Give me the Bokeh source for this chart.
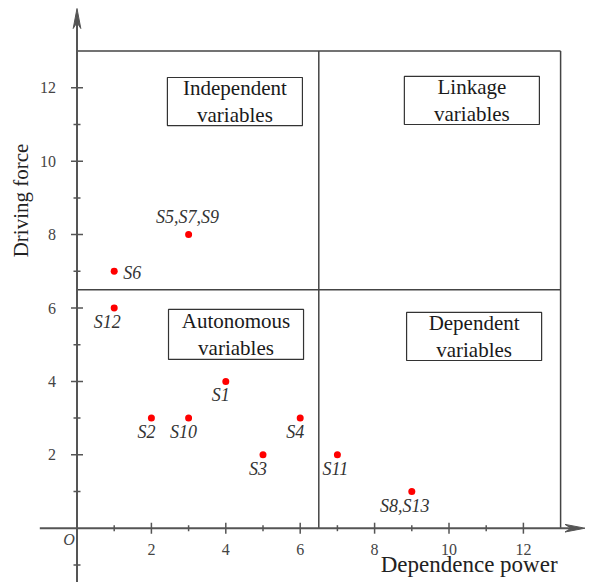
import math
from bokeh.plotting import figure
from bokeh.models import ColumnDataSource, Range1d
from bokeh.core.properties import value
from bokeh.embed import file_html
from bokeh.resources import INLINE

# ---------------- data ----------------
point_labels = ["S1", "S2", "S3", "S4", "S5,S7,S9", "S6", "S8,S13", "S10", "S11", "S12"]
dependence_power = [4, 2, 5, 6, 3, 1, 9, 3, 7, 1]
driving_force = [4, 3, 2, 3, 8, 7, 1, 3, 2, 6]

x_ticks_major = [2, 4, 6, 8, 10, 12]
x_tick_labels = ["2", "4", "6", "8", "10", "12"]
x_ticks_minor = [1, 3, 5, 7, 9, 11]
y_ticks_major = [2, 4, 6, 8, 10, 12]
y_tick_labels = ["2", "4", "6", "8", "10", "12"]
y_ticks_minor = [-1, 1, 3, 5, 7, 9, 11]

quadrant_split = 6.5
quadrant_max = 13

box_titles = ["Independent\nvariables", "Linkage\nvariables",
              "Autonomous\nvariables", "Dependent\nvariables"]
box_left = [2.43, 8.80, 2.46, 8.86]
box_right = [6.06, 12.43, 6.09, 12.49]
box_top = [12.28, 12.31, 5.96, 5.88]
box_bottom = [10.97, 11.00, 4.60, 4.57]

x_title = "Dependence power"
y_title = "Driving force"

# ---------------- layout ----------------
W, H = 594, 582
PX_X, PX_Y = 37.2, 36.7          # pixels per data unit
X_START = -76.5 / PX_X
Y_END = 527.7 / PX_Y
X_END = X_START + W / PX_X
Y_START = Y_END - H / PX_Y

SERIF = value("Liberation Serif")
AXIS_COL = "#555555"

p = figure(width=W, height=H, x_range=Range1d(X_START, X_END),
           y_range=Range1d(Y_START, Y_END), output_backend="svg",
           toolbar_location=None, x_axis_location=None, y_axis_location=None,
           min_border=0, outline_line_color=None, background_fill_color="white")
p.grid.grid_line_color = None

# quadrant frame
qs, qm = quadrant_split, quadrant_max
p.segment(x0=[0, 0, qm, qs], y0=[qm, qs, 0, 0], x1=[qm, qm, qm, qs], y1=[qm, qs, qm, qm],
          line_color="#444444", line_width=1.5)

# axes
x_tip = 0 + 508 / PX_X
y_tip = Y_END - 8 / PX_Y
p.segment(x0=[-1, 0], y0=[0, Y_START], x1=[x_tip - 10 / PX_X, 0], y1=[0, y_tip - 10 / PX_Y],
          line_color=AXIS_COL, line_width=2)

# arrow heads
L, Wd, N = 20, 3.8, 14
p.patches(xs=[[x_tip, x_tip - L / PX_X, x_tip - N / PX_X, x_tip - L / PX_X],
              [0, -Wd / PX_X, 0, Wd / PX_X]],
          ys=[[0, Wd / PX_Y, 0, -Wd / PX_Y],
              [y_tip, y_tip - L / PX_Y, y_tip - N / PX_Y, y_tip - L / PX_Y]],
          fill_color=AXIS_COL, line_color=AXIS_COL, line_width=1)

# ticks
p.segment(x0=x_ticks_major, x1=x_ticks_major, y0=[-5.5 / PX_Y] * len(x_ticks_major),
          y1=[5.5 / PX_Y] * len(x_ticks_major), line_color=AXIS_COL, line_width=1.5)
p.segment(x0=x_ticks_minor, x1=x_ticks_minor, y0=[-3 / PX_Y] * len(x_ticks_minor),
          y1=[3 / PX_Y] * len(x_ticks_minor), line_color=AXIS_COL, line_width=1.5)
p.segment(y0=y_ticks_major, y1=y_ticks_major, x0=[-6 / PX_X] * len(y_ticks_major),
          x1=[6 / PX_X] * len(y_ticks_major), line_color=AXIS_COL, line_width=1.5)
p.segment(y0=y_ticks_minor, y1=y_ticks_minor, x0=[-3.5 / PX_X] * len(y_ticks_minor),
          x1=[3.5 / PX_X] * len(y_ticks_minor), line_color=AXIS_COL, line_width=1.5)

# tick labels
p.text(x=x_ticks_major, y=[0] * len(x_ticks_major), text=x_tick_labels,
       text_font=SERIF, text_font_size="16px", text_color="#444444",
       text_align="center", text_baseline="middle", y_offset=21)
p.text(x=[0] * len(y_ticks_major), y=y_ticks_major, text=y_tick_labels,
       text_font=SERIF, text_font_size="16px", text_color="#444444",
       text_align="right", text_baseline="middle", x_offset=-21)
p.text(x=[0], y=[0], text=["O"], text_font=SERIF, text_font_size="16px",
       text_font_style="italic", text_color="#444444",
       text_align="center", text_baseline="middle", x_offset=-8, y_offset=11)

# axis titles
p.text(x=[X_START], y=[8.93], text=[y_title], angle=math.pi / 2,
       text_font=SERIF, text_font_size="21px", text_color="#222222",
       text_align="center", text_baseline="middle", x_offset=20)
p.text(x=[qm], y=[0], text=[x_title], text_font=SERIF, text_font_size="23px",
       text_color="#222222", text_align="right", text_baseline="middle",
       x_offset=-3, y_offset=36)

# quadrant boxes
p.quad(left=box_left, right=box_right, top=box_top, bottom=box_bottom,
       fill_color=None, line_color="#333333", line_width=1.2)
p.text(x=[(l + r) / 2 for l, r in zip(box_left, box_right)],
       y=[(t + b) / 2 for t, b in zip(box_top, box_bottom)], text=box_titles,
       text_font=SERIF, text_font_size="21px", text_color="#1a1a1a",
       text_align="center", text_baseline="middle", text_line_height=1.15)

# points
p.scatter(dependence_power, driving_force, size=7, color="#ff0000", line_color=None)

# point labels
placement = {"S5,S7,S9": ("center", "middle", -1, -18),
             "S6": ("left", "middle", 9, 2)}
below_dx = {"S12": -7, "S8,S13": -7, "S11": -2}
lab = dict(x=[], y=[], text=[], align=[], base=[], dx=[], dy=[])
for name, xv, yv in zip(point_labels, dependence_power, driving_force):
    a, b, dx, dy = placement.get(name, ("center", "middle", below_dx.get(name, -5), 14))
    lab["x"].append(xv); lab["y"].append(yv); lab["text"].append(name)
    lab["align"].append(a); lab["base"].append(b); lab["dx"].append(dx); lab["dy"].append(dy)
src = ColumnDataSource(lab)
p.text(x="x", y="y", text="text", text_align="align", text_baseline="base",
       x_offset="dx", y_offset="dy", source=src, text_font=SERIF,
       text_font_size="18px", text_font_style="italic", text_color="#333333")

open("out.html", "w").write(file_html(p, INLINE))
